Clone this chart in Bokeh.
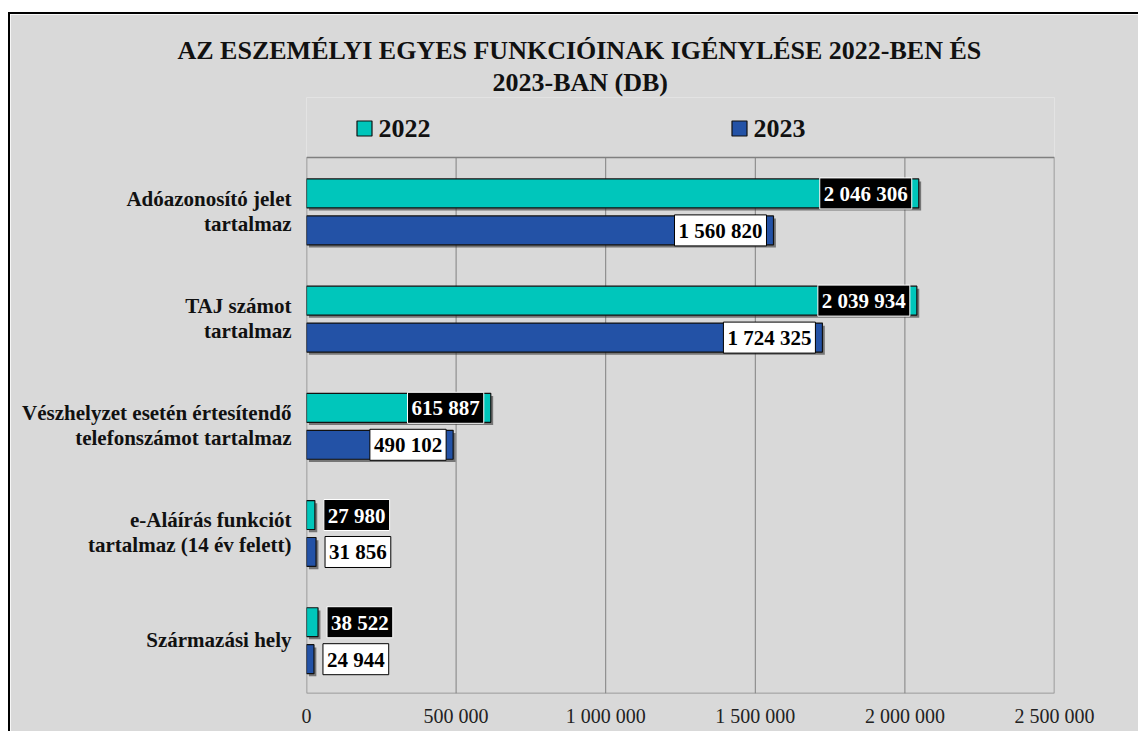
from bokeh.plotting import figure
from bokeh.models import (ColumnDataSource, Range1d, Label, FixedTicker, Title)
from bokeh.embed import file_html
from bokeh.resources import INLINE

# ---- data ----
categories = [
    "Adóazonosító jelet\ntartalmaz",
    "TAJ számot\ntartalmaz",
    "Vészhelyzet esetén értesítendő\ntelefonszámot tartalmaz",
    "e-Aláírás funkciót\ntartalmaz (14 év felett)",
    "Származási hely",
]
values_2022 = [2046306, 2039934, 615887, 27980, 38522]
values_2023 = [1560820, 1724325, 490102, 31856, 24944]
series_names = ["2022", "2023"]
x_ticks = [0, 500000, 1000000, 1500000, 2000000, 2500000]
x_tick_labels = ["0", "500 000", "1 000 000", "1 500 000", "2 000 000", "2 500 000"]
title_lines = ["AZ ESZEMÉLYI EGYES FUNKCIÓINAK IGÉNYLÉSE 2022-BEN ÉS", "2023-BAN (DB)"]

# ---- style ----
BG = "#d9d9d9"
GRID = "#808080"
C2022 = "#00c6bb"
C2023 = "#2352a6"
SERIF = "Liberation Serif"
CHART_W, CHART_H = 748, 536       # visible plot area
EXTRA_TOP = 60                     # legend strip inside the frame, above plot area
FRAME_H = CHART_H + EXTRA_TOP
W, H = 1130, 719
BORDER_L, BORDER_T = 296, 143 - EXTRA_TOP
OFF_2022, OFF_2023 = 0.165, -0.18
BAR_H = 0.27
SHADOW_DX, SHADOW_DY = 8000, 0.025
X_MAX = 2500000
LEGEND_X_PX = [58, 433]            # legend square centres, px from plot-area left
LEGEND_Y_PX = 29                   # legend row, px above plot-area top

n = len(categories)
centers = [n - i - 0.5 for i in range(n)]  # first category at top
y_top = n * FRAME_H / CHART_H
px_x = X_MAX / CHART_W
px_y = n / CHART_H


def fmt(v):
    return f"{v:,}".replace(",", " ")


p = figure(
    width=W, height=H,
    y_range=Range1d(0, y_top),
    x_range=Range1d(0, X_MAX),
    output_backend="svg", toolbar_location=None,
    min_border_left=BORDER_L, min_border_top=BORDER_T,
    min_border_right=W - BORDER_L - CHART_W,
    min_border_bottom=H - BORDER_T - FRAME_H,
    background_fill_color=BG, border_fill_color=BG,
)
p.styles = {"border-left": "2px solid black", "border-top": "2px solid black",
            "margin-left": "8px", "margin-top": "12px"}
p.outline_line_color = None
p.xgrid.grid_line_color = None
p.ygrid.grid_line_color = None

# grid lines and plot-area border (limited to the plot area)
p.segment(x0=x_ticks[1:-1], x1=x_ticks[1:-1], y0=0, y1=n, line_color=GRID, line_width=1)
p.quad(left=0, right=X_MAX, bottom=0, top=n, fill_color=None, line_color=GRID, line_width=1.5)

src = ColumnDataSource(dict(
    y22=[c + OFF_2022 for c in centers],
    y23=[c + OFF_2023 for c in centers],
    y22s=[c + OFF_2022 - SHADOW_DY for c in centers],
    y23s=[c + OFF_2023 - SHADOW_DY for c in centers],
    v22=values_2022,
    v23=values_2023,
    v22s=[v + SHADOW_DX for v in values_2022],
    v23s=[v + SHADOW_DX for v in values_2023],
))

# shadows
p.hbar(y="y22s", left=SHADOW_DX, right="v22s", height=BAR_H, source=src,
       fill_color="#333333", fill_alpha=0.6, line_color=None)
p.hbar(y="y23s", left=SHADOW_DX, right="v23s", height=BAR_H, source=src,
       fill_color="#333333", fill_alpha=0.6, line_color=None)

p.hbar(y="y22", left=0, right="v22", height=BAR_H, source=src,
       fill_color=C2022, line_color="#111111", line_width=1.2)
p.hbar(y="y23", left=0, right="v23", height=BAR_H, source=src,
       fill_color=C2023, line_color="#111111", line_width=1.2)

# data labels: inside end for long bars, outside for short bars
THRESH = 300000
pad = dict(left=4, right=4, top=4, bottom=3)


def make_label(x, y, txt, big, bg, fg, brd):
    kw = dict(x=x, y=y, text=txt, x_offset=(-7 if big else 9),
              text_align=("right" if big else "left"), text_baseline="middle",
              text_font=SERIF, text_font_style="bold", text_font_size="21px",
              text_color=fg, background_fill_color=bg, border_line_color=brd,
              border_line_width=1)
    try:
        return Label(padding=pad, **kw)
    except Exception:
        return Label(**kw)


for i in range(n):
    v = values_2022[i]
    p.add_layout(make_label(v, centers[i] + OFF_2022, fmt(v), v > THRESH, "black", "white", "white"))
    v = values_2023[i]
    p.add_layout(make_label(v, centers[i] + OFF_2023, fmt(v), v > THRESH, "white", "black", "black"))

# legend drawn by hand in the strip above the plot area
leg_y = n + LEGEND_Y_PX * px_y
p.scatter(x=[xp * px_x for xp in LEGEND_X_PX], y=[leg_y, leg_y], marker="square", size=15,
          fill_color=[C2022, C2023], line_color="#111111", line_width=1.2)
for xp, name in zip(LEGEND_X_PX, series_names):
    p.add_layout(Label(x=xp * px_x, y=leg_y, x_offset=14, text=name, text_align="left",
                       text_baseline="middle", text_font=SERIF, text_font_style="bold",
                       text_font_size="26px", text_color="#111111"))

# axes
p.xaxis.ticker = FixedTicker(ticks=x_ticks)
p.xaxis.major_label_overrides = {t: l for t, l in zip(x_ticks, x_tick_labels)}
p.xaxis.axis_line_color = None
p.xaxis.major_tick_line_color = None
p.xaxis.minor_tick_line_color = None
p.xaxis.major_label_standoff = 5
p.xaxis.major_label_text_font = SERIF
p.xaxis.major_label_text_font_size = "20px"
p.xaxis.major_label_text_color = "#222222"

p.yaxis.ticker = FixedTicker(ticks=centers)
p.yaxis.major_label_overrides = {c: t for c, t in zip(centers, categories)}
p.yaxis.axis_line_color = None
p.yaxis.major_tick_line_color = None
p.yaxis.minor_tick_line_color = None
p.yaxis.major_label_standoff = 9
p.yaxis.major_label_text_font = SERIF
p.yaxis.major_label_text_font_style = "bold"
p.yaxis.major_label_text_font_size = "21px"
p.yaxis.major_label_text_line_height = 1.05
p.yaxis.major_label_text_color = "#111111"

# title lines (added innermost first)
p.add_layout(Title(text=title_lines[1], align="left", offset=186, standoff=2,
                   text_font=SERIF, text_font_style="bold", text_font_size="26px",
                   text_color="#111111"), "above")
p.add_layout(Title(text=title_lines[0], align="left", offset=-129, standoff=0,
                   text_font=SERIF, text_font_style="bold", text_font_size="26px",
                   text_color="#111111"), "above")

open("out.html", "w").write(file_html(p, INLINE))
